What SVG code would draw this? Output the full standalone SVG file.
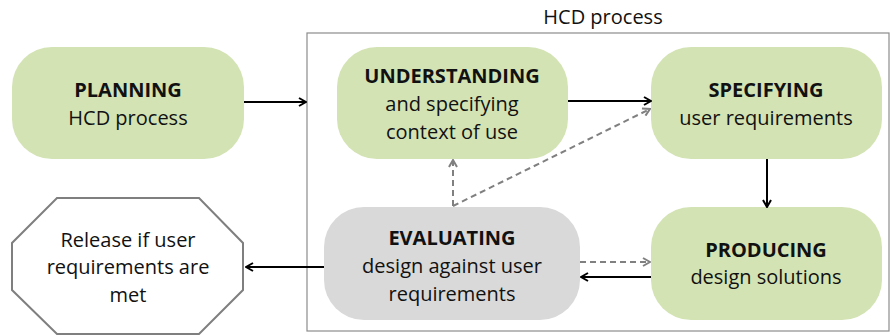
<svg xmlns="http://www.w3.org/2000/svg" width="890" height="335" viewBox="0 0 890 335">
<defs>
<marker id="ah" viewBox="0 0 10 10" refX="9" refY="5" markerWidth="10" markerHeight="10" markerUnits="userSpaceOnUse" orient="auto"><path d="M2,1 L9,5 L2,9" fill="none" stroke="#000" stroke-width="2"/></marker>
<marker id="ahg" viewBox="0 0 10 10" refX="9" refY="5" markerWidth="10" markerHeight="10" markerUnits="userSpaceOnUse" orient="auto"><path d="M2,1 L9,5 L2,9" fill="none" stroke="#808080" stroke-width="2"/></marker>
</defs>
<style>
text{font-family:"Open Sans","Liberation Sans",sans-serif;font-size:20px;fill:#111;text-anchor:middle}
.b{font-weight:bold}
.g{fill:#d3e3b4}
.e{fill:#d9d9d9}
.c{fill:none;stroke:#000;stroke-width:2;marker-end:url(#ah)}
.d{fill:none;stroke:#808080;stroke-width:2;stroke-dasharray:6,4;marker-end:url(#ahg)}
</style>
<rect width="890" height="335" fill="#fff"/>
<g id="hcd-box">
<rect x="307" y="33" width="582" height="298" fill="none" stroke="#8c8c8c" stroke-width="1.2"/>
<text x="603" y="24">HCD process</text>
</g>
<g id="planning">
<rect class="g" x="12" y="47" width="232" height="112" rx="40"/>
<text class="b" x="128" y="97">PLANNING</text>
<text x="128" y="125">HCD process</text>
</g>
<g id="understanding">
<rect class="g" x="337" y="47" width="231" height="112" rx="40"/>
<text class="b" x="452" y="83">UNDERSTANDING</text>
<text x="452" y="111">and specifying</text>
<text x="452" y="139">context of use</text>
</g>
<g id="specifying">
<rect class="g" x="651" y="47" width="231" height="112" rx="40"/>
<text class="b" x="766" y="97">SPECIFYING</text>
<text x="766" y="125">user requirements</text>
</g>
<g id="evaluating">
<rect class="e" x="324" y="207" width="256" height="113" rx="40"/>
<text class="b" x="452" y="245">EVALUATING</text>
<text x="452" y="273">design against user</text>
<text x="452" y="301">requirements</text>
</g>
<g id="producing">
<rect class="g" x="651" y="207" width="231" height="113" rx="40"/>
<text class="b" x="766" y="257">PRODUCING</text>
<text x="766" y="284">design solutions</text>
</g>
<g id="release">
<polygon points="57,198 199,198 243,243 243,290 199,334 57,334 12,290 12,243" fill="#fff" stroke="#7f7f7f" stroke-width="2"/>
<text x="128" y="247">Release if user</text>
<text x="128" y="274">requirements are</text>
<text x="128" y="302">met</text>
</g>
<g id="connectors">
<line class="c" x1="244" y1="102" x2="306" y2="102"/>
<line class="c" x1="568" y1="101" x2="651" y2="101"/>
<line class="c" x1="767" y1="159" x2="767" y2="207"/>
<line class="c" x1="651" y1="277" x2="581" y2="277"/>
<line class="c" x1="324" y1="267" x2="246" y2="267"/>
<line class="d" x1="580" y1="262" x2="650" y2="262"/>
<polyline class="d" points="453,206 453,160"/>
<polyline class="d" points="453,206 650,109"/>
</g>
</svg>
